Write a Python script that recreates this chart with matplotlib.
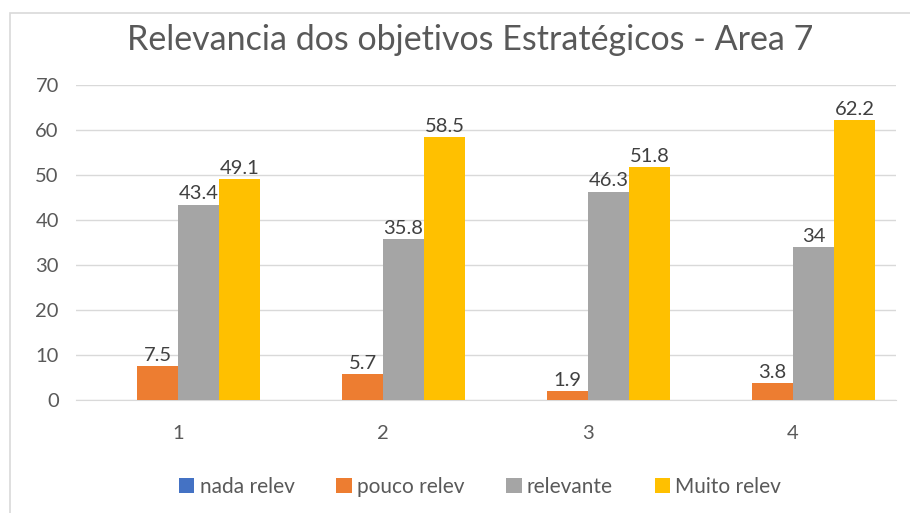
import matplotlib
matplotlib.use("Agg")
import matplotlib.pyplot as plt
from matplotlib.patches import Rectangle
import numpy as np

plt.rcParams['font.family'] = ['Lato', 'DejaVu Sans']

categories = ["1", "2", "3", "4"]
series_names = ["nada relev", "pouco relev", "relevante", "Muito relev"]
nada = [0, 0, 0, 0]
pouco = [7.5, 5.7, 1.9, 3.8]
relevante = [43.4, 35.8, 46.3, 34]
muito = [49.1, 58.5, 51.8, 62.2]
colors = ["#4472C4", "#ED7D31", "#A5A5A5", "#FFC000"]
yticks = [0, 10, 20, 30, 40, 50, 60, 70]

fig = plt.figure(figsize=(9.1, 5.13), dpi=100)
fig.patches.append(Rectangle((10/910, -0.1), 0.995, 1 - 13/513 + 0.1, transform=fig.transFigure,
                             fill=False, edgecolor="#D9D9D9", linewidth=1.2))
ax = fig.add_axes([75.5/910, 1 - 400/513, 820/910, 315/513])

x = np.arange(len(categories))
w = 0.2
data = [nada, pouco, relevante, muito]
for i, (name, vals, c) in enumerate(zip(series_names, data, colors)):
    pos = x + (i - 1.5) * w
    ax.bar(pos, vals, width=w, color=c, label=name, zorder=3)
    if i > 0:
        for p, v in zip(pos, vals):
            ax.text(p, v + 0.5, f"{v:g}", ha="center", va="bottom", fontsize=14.5, color="#404040")

ax.set_xlim(-0.5, 3.5)
ax.set_ylim(0, 70)
ax.set_yticks(yticks)
ax.set_xticks(x)
ax.set_xticklabels(categories)
ax.tick_params(axis="both", length=0, labelsize=14.5, labelcolor="#595959")
ax.tick_params(axis="y", pad=12)
ax.tick_params(axis="x", pad=18)
ax.grid(axis="y", color="#D9D9D9", linewidth=1, zorder=0)
for s in ["top", "right", "left"]:
    ax.spines[s].set_visible(False)
ax.spines["bottom"].set_color("#D9D9D9")

fig.text(470/910, 1 - 40/513, "Relevancia dos objetivos Estratégicos - Area 7",
         ha="center", va="center", fontsize=24.5, color="#595959")

fig.legend(loc="center", bbox_to_anchor=(480/910, 1 - 487/513), ncol=4, frameon=False,
           fontsize=15, handlelength=0.75, handleheight=0.75, handletextpad=0.25, columnspacing=2.0,
           labelcolor="#595959")

fig.savefig("out.png", dpi=100)
